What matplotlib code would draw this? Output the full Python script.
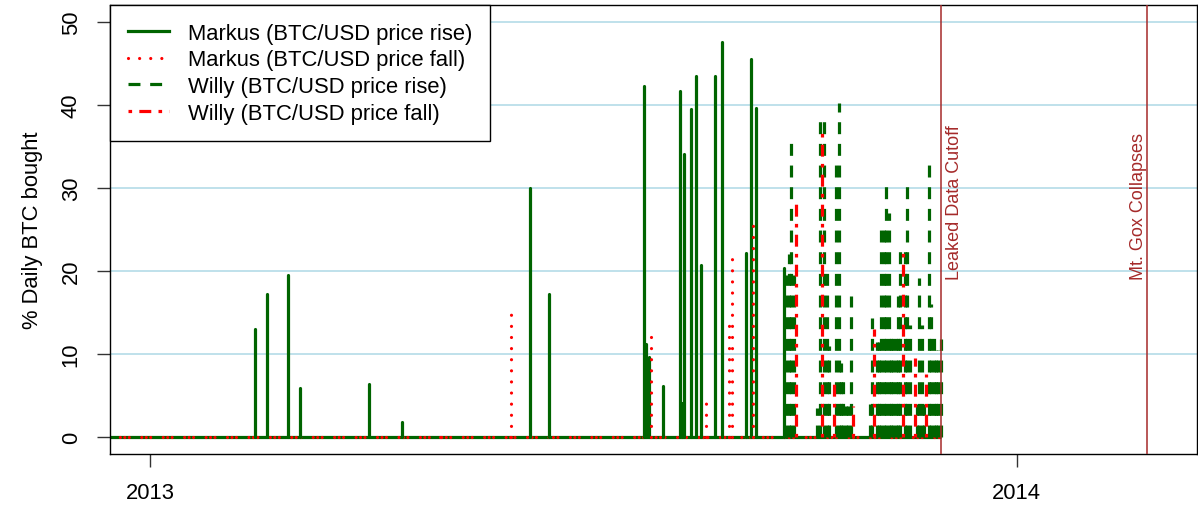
import numpy as np
import matplotlib
matplotlib.use("Agg")
import matplotlib.pyplot as plt
import matplotlib.dates as mdates
from matplotlib.lines import Line2D

plt.rcParams['font.family'] = ['Liberation Sans', 'DejaVu Sans']
plt.rcParams['lines.scale_dashes'] = False

# Markus: share of daily BTC volume bought, split by price direction
markus_rise_dates = ['2013-02-14', '2013-02-19', '2013-02-28', '2013-03-05',
                     '2013-04-03', '2013-04-17', '2013-06-10', '2013-06-18',
                     '2013-07-28', '2013-07-29', '2013-07-30', '2013-08-05',
                     '2013-08-12', '2013-08-13', '2013-08-14', '2013-08-17',
                     '2013-08-19', '2013-08-21', '2013-08-27', '2013-08-30',
                     '2013-09-09', '2013-09-11', '2013-09-13', '2013-09-25']
markus_rise_pct = [13.0, 17.2, 19.5, 5.9,
                   6.4, 1.8, 30.0, 17.2,
                   42.3, 11.2, 9.7, 6.2,
                   41.7, 4.1, 34.1, 39.5,
                   43.5, 20.7, 43.5, 47.5,
                   22.2, 45.5, 39.6, 20.4]

markus_fall_dates = ['2013-05-03', '2013-06-02', '2013-07-31', '2013-08-23',
                     '2013-09-02', '2013-09-03', '2013-09-12']
markus_fall_pct = [1.4, 15.1, 12.3, 4.2,
                   13.7, 21.9, 26.0]

# Willy
willy_rise_dates = ['2013-09-26', '2013-09-27', '2013-09-28', '2013-09-29',
                    '2013-10-09', '2013-10-10', '2013-10-12', '2013-10-13',
                    '2013-10-14', '2013-10-17', '2013-10-18', '2013-10-19',
                    '2013-10-20', '2013-10-21', '2013-10-22', '2013-10-23',
                    '2013-10-31', '2013-11-01', '2013-11-03', '2013-11-04',
                    '2013-11-05', '2013-11-06', '2013-11-07', '2013-11-08',
                    '2013-11-09', '2013-11-10', '2013-11-11', '2013-11-12',
                    '2013-11-13', '2013-11-15', '2013-11-16', '2013-11-17',
                    '2013-11-20', '2013-11-21', '2013-11-22', '2013-11-23',
                    '2013-11-25', '2013-11-26', '2013-11-27', '2013-11-28',
                    '2013-11-29', '2013-11-30']
willy_rise_pct = [19.5, 22.0, 35.6, 19.5,
                  3.5, 38.2, 38.2, 20.5,
                  11.0, 33.0, 40.2, 9.0,
                  7.0, 3.8, 3.8, 17.0,
                  4.0, 14.4, 11.5, 11.5,
                  25.0, 25.0, 30.4, 27.0,
                  12.0, 12.0, 12.0, 17.0,
                  22.5, 22.5, 30.4, 13.5,
                  4.0, 19.2, 13.5, 4.0,
                  33.0, 16.0, 13.0, 10.5,
                  10.5, 11.8]

willy_fall_dates = ['2013-09-30', '2013-10-11', '2013-10-16', '2013-10-24',
                    '2013-11-02', '2013-11-14', '2013-11-19', '2013-11-24']
willy_fall_pct = [28.2, 37.0, 6.8, 3.8,
                  13.0, 22.2, 9.6, 7.6]

data_start = '2012-12-01'
leak_cutoff = '2013-11-30'
gox_collapse = '2014-02-25'
range_start, range_end = '2013-01-01', '2014-03-01'
year_ticks = ['2013-01-01', '2014-01-01']
year_labels = ['2013', '2014']
y_ticks = [0, 10, 20, 30, 40, 50]


def dnum(d):
    return mdates.date2num(np.array(d, dtype='datetime64[D]'))


GREEN = '#006400'
RED = '#ff0000'
BROWN = '#a52a2a'
LW = 2.3
FS = 15.8

fig = plt.figure(figsize=(11.98, 5.10), dpi=100)
ax = fig.add_axes([110 / 1198, 55 / 510, 1087 / 1198, 449 / 510])

for v in y_ticks[1:]:
    ax.axhline(v, color='#add8e6', lw=1.1, zorder=1)

# zero baseline (days with no purchases)
x0, x1 = dnum([data_start, leak_cutoff])
ax.plot([x0, x1], [0, 0], color=GREEN, lw=LW, solid_capstyle='butt', zorder=2)
ax.plot([x0, x1], [0, 0], color=RED, lw=LW,
        linestyle=(0, (0.01, 3.2, 0.01, 3.2, 0.01, 9.0)),
        dash_capstyle='round', zorder=2)

mr = ax.vlines(dnum(markus_rise_dates), 0, markus_rise_pct, colors=GREEN,
               lw=LW, linestyles='solid', zorder=3)
mr.set_capstyle('round')
mf = ax.vlines(dnum(markus_fall_dates), 0, markus_fall_pct, colors=RED,
               lw=LW, linestyles=[(0, (0.01, 7.99))], zorder=3)
mf.set_capstyle('round')
wr = ax.vlines(dnum(willy_rise_dates), 0, willy_rise_pct, colors=GREEN,
               lw=LW, linestyles=[(0, (8.6, 7.0))], zorder=3)
wr.set_capstyle('butt')
wf = ax.vlines(dnum(willy_fall_dates), 0, willy_fall_pct, colors=RED,
               lw=LW, linestyles=[(0, (2.6, 5.2, 8.6, 5.2))], zorder=3)
wf.set_capstyle('butt')

xc, xg = dnum([leak_cutoff, gox_collapse])
ax.axvline(xc, color=BROWN, lw=1.1, zorder=4)
ax.axvline(xg, color=BROWN, lw=1.1, zorder=4)
ax.annotate('Leaked Data Cutoff', (xc, 19), xytext=(4, 0),
            textcoords='offset points', rotation=90, color=BROWN,
            fontsize=13, ha='left', va='bottom')
ax.annotate('Mt. Gox Collapses', (xg, 19), xytext=(-0.5, 0),
            textcoords='offset points', rotation=90, color=BROWN,
            fontsize=13, ha='right', va='bottom')

# R-style 4% padding around the date range
a, b = dnum([range_start, range_end])
pad = 0.04 * (b - a)
ax.set_xlim(a - pad, b + pad)
ax.set_ylim(-2, 52)

ax.set_xticks(dnum(year_ticks))
ax.set_xticklabels(year_labels)
ax.set_yticks(y_ticks)
ax.set_yticklabels([str(v) for v in y_ticks], rotation=90, va='center')
ax.tick_params(axis='both', length=9.4, width=1.0, labelsize=FS,
               direction='out', color='#333333')
ax.tick_params(axis='x', pad=11)
ax.tick_params(axis='y', pad=11)
for s in ax.spines.values():
    s.set_linewidth(1.0)
ax.set_ylabel('% Daily BTC bought', fontsize=FS, labelpad=13)

handles = [
    Line2D([], [], color=GREEN, lw=LW),
    Line2D([], [], color=RED, lw=LW, linestyle=(0, (0.01, 7.99)),
           dash_capstyle='round'),
    Line2D([], [], color=GREEN, lw=LW, linestyle=(0, (8.6, 7.0)),
           dash_capstyle='butt'),
    Line2D([], [], color=RED, lw=LW, linestyle=(0, (2.6, 5.2, 8.6, 5.2)),
           dash_capstyle='butt'),
]
labels = ['Markus (BTC/USD price rise)', 'Markus (BTC/USD price fall)',
          'Willy (BTC/USD price rise)', 'Willy (BTC/USD price fall)']
leg = ax.legend(handles, labels, loc='upper left', bbox_to_anchor=(0, 1),
                borderaxespad=0, fontsize=FS, fancybox=False, framealpha=1,
                edgecolor='black', handlelength=1.9, handletextpad=0.85,
                borderpad=0.8, labelspacing=0.26)
leg.get_frame().set_linewidth(1.0)
leg.set_zorder(5)

fig.savefig('out.png', dpi=100)
